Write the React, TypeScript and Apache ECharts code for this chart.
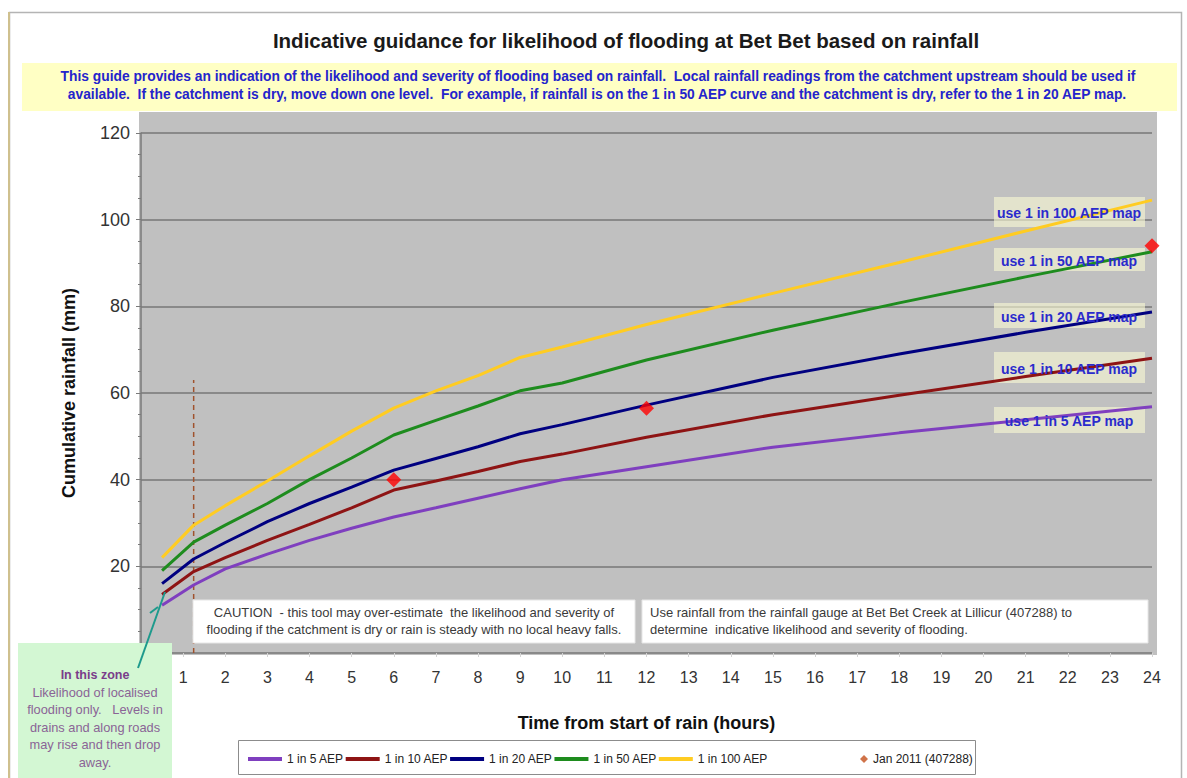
import React, { useEffect, useRef } from 'react';
import * as echarts from 'echarts';

const hours = [0.5, 1.25, 2, 3, 4, 5, 6, 7, 8, 9, 10, 12, 15, 18, 21, 24];
const aep5 = [11.0, 15.7, 19.4, 22.8, 26.0, 28.8, 31.4, 33.5, 35.7, 37.9, 40.0, 43.0, 47.5, 50.8, 53.8, 56.8];
const aep10 = [13.5, 18.8, 22.0, 26.0, 29.7, 33.5, 37.6, 39.7, 41.9, 44.2, 45.9, 49.8, 55.0, 59.5, 63.8, 68.0];
const aep20 = [16.0, 21.7, 25.5, 30.3, 34.5, 38.3, 42.2, 44.9, 47.6, 50.6, 52.7, 57.2, 63.6, 69.0, 74.0, 78.7];
const aep50 = [19.0, 25.6, 29.5, 34.5, 40.0, 45.0, 50.3, 53.7, 57.0, 60.5, 62.3, 67.6, 74.5, 80.8, 86.8, 92.6];
const aep100 = [22.0, 29.5, 34.0, 39.7, 45.5, 51.2, 56.5, 60.5, 64.0, 68.2, 70.6, 75.8, 83.0, 90.1, 97.4, 104.5];

const janHours = [6, 12, 24];
const jan2011 = [40, 56.5, 94];

const markerHour = [1.25, 1.25];
const markerLevel = [0, 63];

const seriesNames = ['1 in 5 AEP', '1 in 10 AEP', '1 in 20 AEP', '1 in 50 AEP', '1 in 100 AEP'];
const seriesColors = ['#7F3FBF', '#8E1414', '#000080', '#1E8C1E', '#FFCC22'];
const seriesValues = [aep5, aep10, aep20, aep50, aep100];
const janName = 'Jan 2011 (407288)';

const mapLabels = ['use 1 in 100 AEP map', 'use 1 in 50 AEP map', 'use 1 in 20 AEP map', 'use 1 in 10 AEP map', 'use 1 in 5 AEP map'];

const guideLines = [
  'This guide provides an indication of the likelihood and severity of flooding based on rainfall.  Local rainfall readings from the catchment upstream should be used if',
  'available.  If the catchment is dry, move down one level.  For example, if rainfall is on the 1 in 50 AEP curve and the catchment is dry, refer to the 1 in 20 AEP map.',
];
const cautionLines = [
  'CAUTION  - this tool may over-estimate  the likelihood and severity of',
  'flooding if the catchment is dry or rain is steady with no local heavy falls.',
];
const gaugeLines = [
  'Use rainfall from the rainfall gauge at Bet Bet Creek at Lillicur (407288) to',
  'determine  indicative likelihood and severity of flooding.',
];
const zoneLines = [
  'Likelihood of localised',
  'flooding only.   Levels in',
  'drains and along roads',
  'may rise and then drop',
  'away.',
];

const FONT = '"Liberation Sans", Arial, sans-serif';

const txt = (
  text: string,
  x: number,
  y: number,
  font: string,
  fill: string,
  align: string = 'center',
  z: number = 20
) => ({
  type: 'text',
  z,
  silent: true,
  style: {
    text,
    x,
    y,
    font,
    fill,
    align,
    textAlign: align,
    verticalAlign: 'middle',
    textVerticalAlign: 'middle',
  },
});

function buildOption() {
  const lineSeries = seriesNames.map((name, i) => ({
    name,
    type: 'line',
    data: hours.map((h, j) => [h, seriesValues[i][j]]),
    showSymbol: false,
    symbol: 'none',
    lineStyle: { width: 3, color: seriesColors[i] },
    itemStyle: { color: seriesColors[i] },
    z: 3,
  }));

  const graphics: any[] = [
    {
      type: 'rect',
      z: -1,
      silent: true,
      shape: { x: 139, y: 112, width: 1018, height: 543 },
      style: { fill: '#C0C0C0' },
    },
    {
      type: 'rect',
      z: -2,
      silent: true,
      shape: { x: 9.5, y: 12.5, width: 1172, height: 800 },
      style: { fill: 'none', stroke: '#B4B4B4', lineWidth: 1.5 },
    },
    {
      type: 'line',
      z: -2,
      silent: true,
      shape: { x1: 9, y1: 12, x2: 9, y2: 778 },
      style: { stroke: '#CFC08E', lineWidth: 2 },
    },
    txt('Indicative guidance for likelihood of flooding at Bet Bet based on rainfall', 626, 40, `bold 20.5px ${FONT}`, '#1a1a1a'),
    {
      type: 'rect',
      z: 10,
      silent: true,
      shape: { x: 22, y: 63, width: 1155, height: 48 },
      style: { fill: '#FFFFC4' },
    },
    txt(guideLines[0], 598, 76, `bold 13.8px ${FONT}`, '#2424CC'),
    txt(guideLines[1], 597, 94, `bold 13.8px ${FONT}`, '#2424CC'),
    {
      type: 'rect',
      z: 10,
      silent: true,
      shape: { x: 193, y: 600, width: 442, height: 43 },
      style: { fill: '#FFFFFF', stroke: '#E6E6E6', lineWidth: 1 },
    },
    txt(cautionLines[0], 414, 612, `13px ${FONT}`, '#3a3a3a'),
    txt(cautionLines[1], 414, 629, `13px ${FONT}`, '#3a3a3a'),
    {
      type: 'rect',
      z: 10,
      silent: true,
      shape: { x: 642, y: 600, width: 506, height: 43 },
      style: { fill: '#FFFFFF', stroke: '#E6E6E6', lineWidth: 1 },
    },
    txt(gaugeLines[0], 650, 612, `13px ${FONT}`, '#3a3a3a', 'left'),
    txt(gaugeLines[1], 650, 629, `13px ${FONT}`, '#3a3a3a', 'left'),
    {
      type: 'rect',
      z: 10,
      silent: true,
      shape: { x: 18, y: 643, width: 154, height: 140 },
      style: { fill: '#D3F7D3' },
    },
    txt('In this zone', 95, 675, `bold 12.5px ${FONT}`, '#7A3D8A'),
    ...zoneLines.map((l, i) => txt(l, 95, 692 + i * 17.5, `12.8px ${FONT}`, '#8A6496')),
    {
      type: 'line',
      z: 12,
      silent: true,
      shape: { x1: 138, y1: 668, x2: 165, y2: 592 },
      style: { stroke: '#1E9A8C', lineWidth: 2 },
    },
    {
      type: 'line',
      z: 12,
      silent: true,
      shape: { x1: 150, y1: 613, x2: 158, y2: 607 },
      style: { stroke: '#1E9A8C', lineWidth: 2 },
    },
    {
      type: 'rect',
      z: 10,
      silent: true,
      shape: { x: 238.5, y: 740.5, width: 737, height: 34 },
      style: { fill: '#FFFFFF', stroke: '#8C8C8C', lineWidth: 1 },
    },
  ];

  const boxYs = [197, 248, 303, 352, 407];
  const boxHs = [30, 23, 25, 31, 26];
  mapLabels.forEach((label, i) => {
    graphics.push({
      type: 'rect',
      z: 1,
      silent: true,
      shape: { x: 994, y: boxYs[i], width: 151, height: boxHs[i] },
      style: { fill: 'rgba(250,250,212,0.6)' },
    });
    graphics.push(txt(label, 1069, boxYs[i] + boxHs[i] / 2 + 1, `bold 14px ${FONT}`, '#2B2BCC', 'center', 4));
  });

  return {
    animation: false,
    backgroundColor: '#FFFFFF',
    textStyle: { fontFamily: FONT },
    grid: { left: 141, right: 35, top: 133, bottom: 125 },
    xAxis: {
      type: 'value',
      min: 0,
      max: 24,
      interval: 1,
      axisLine: { show: false },
      axisTick: { show: true, length: 4, lineStyle: { color: '#D4D4D4' } },
      splitLine: { show: false },
      axisLabel: {
        formatter: (v: number) => (v === 0 ? '' : String(v)),
        fontSize: 16,
        color: '#333333',
        margin: 16,
      },
      name: 'Time from start of rain (hours)',
      nameLocation: 'middle',
      nameGap: 61,
      nameTextStyle: { fontSize: 18, fontWeight: 'bold', color: '#111111' },
    },
    yAxis: {
      type: 'value',
      min: 0,
      max: 120,
      interval: 20,
      axisLine: { show: true, lineStyle: { color: '#7A7A7A', width: 1.5 } },
      axisTick: { show: true, length: 5, lineStyle: { color: '#7A7A7A' } },
      minorTick: { show: true, splitNumber: 4, length: 3, lineStyle: { color: '#7A7A7A' } },
      splitLine: { show: true, lineStyle: { color: '#777777', width: 1.5 } },
      axisLabel: {
        formatter: (v: number) => (v === 0 ? '' : String(v)),
        fontSize: 18,
        color: '#333333',
        margin: 11,
      },
      name: 'Cumulative rainfall (mm)',
      nameLocation: 'middle',
      nameGap: 63,
      nameTextStyle: { fontSize: 18, fontWeight: 'bold', color: '#111111' },
    },
    legend: [
      {
        left: 248,
        top: 753,
        padding: 0,
        itemWidth: 34,
        itemHeight: 4,
        itemGap: 2,
        icon: 'rect',
        selectedMode: false,
        data: seriesNames,
        textStyle: { fontSize: 12, color: '#222222', fontFamily: FONT },
        z: 20,
      },
      {
        left: 860,
        top: 753,
        padding: 0,
        itemWidth: 8,
        itemHeight: 8,
        icon: 'diamond',
        selectedMode: false,
        data: [{ name: janName, itemStyle: { color: '#C4501C' } }],
        textStyle: { fontSize: 12, color: '#222222', fontFamily: FONT },
        z: 20,
      },
    ],
    graphic: { elements: graphics },
    series: [
      {
        name: 'marker',
        type: 'line',
        data: markerHour.map((h, i) => [h, markerLevel[i]]),
        showSymbol: false,
        symbol: 'none',
        silent: true,
        lineStyle: { width: 1.5, type: [5, 4], color: '#A0522D' },
        z: 2,
      },
      ...lineSeries,
      {
        name: janName,
        type: 'scatter',
        data: janHours.map((h, i) => [h, jan2011[i]]),
        symbol: 'diamond',
        symbolSize: 15,
        itemStyle: { color: '#FF0000' },
        z: 6,
      },
    ],
  };
}

export default function App() {
  const ref = useRef<HTMLDivElement>(null);
  useEffect(() => {
    if (!ref.current) return;
    const chart = echarts.init(ref.current, null, { renderer: 'svg' });
    chart.setOption(buildOption() as any);
    return () => chart.dispose();
  }, []);
  return (
    <div
      ref={ref}
      style={{ position: 'absolute', left: 0, top: 0, width: 1187, height: 778 }}
    />
  );
}
